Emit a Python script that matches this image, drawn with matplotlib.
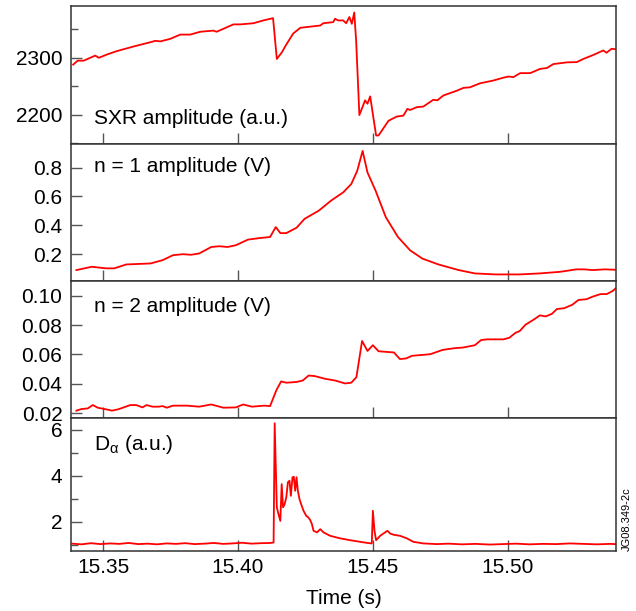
import matplotlib
matplotlib.use('Agg')
import matplotlib.pyplot as plt
from matplotlib.ticker import MultipleLocator, FormatStrFormatter

plt.rcParams['font.family'] = ['Liberation Sans', 'DejaVu Sans']
plt.rcParams['font.size'] = 15

# SXR amplitude (a.u.)
sxr_t = [15.3389, 15.3406, 15.3428, 15.3471, 15.3484, 15.3515, 15.3552, 15.3613,
         15.3675, 15.3694, 15.3712, 15.3749, 15.3786, 15.3823, 15.3860, 15.3909,
         15.3921, 15.3959, 15.3983, 15.4009, 15.4057, 15.4094, 15.4130, 15.4144,
         15.4163, 15.4181, 15.4205, 15.4231, 15.4268, 15.4305, 15.4316, 15.4353,
         15.4360, 15.4371, 15.4390, 15.4401, 15.4413, 15.4422, 15.4431, 15.4438,
         15.4450, 15.4471, 15.4480, 15.4490, 15.4512, 15.4521, 15.4558, 15.4589,
         15.4613, 15.4628, 15.4638, 15.4663, 15.4687, 15.4724, 15.4739, 15.4761,
         15.4811, 15.4836, 15.4860, 15.4897, 15.4947, 15.4984, 15.5003, 15.5021,
         15.5046, 15.5083, 15.5120, 15.5145, 15.5169, 15.5219, 15.5256, 15.5280,
         15.5317, 15.5354, 15.5366, 15.5385, 15.5401]
sxr_v = [2288, 2295, 2295, 2304, 2300, 2306, 2312, 2320,
         2327.5, 2330, 2329, 2333.5, 2341, 2341, 2346, 2348,
         2346, 2354, 2359, 2359, 2361, 2366, 2370, 2298,
         2310, 2325, 2343, 2353, 2355, 2357, 2361, 2363,
         2369, 2366, 2366, 2361, 2372, 2360, 2380, 2330,
         2199, 2225, 2219, 2232, 2163, 2163, 2189, 2196.5,
         2198, 2210, 2208, 2213, 2214, 2226, 2225, 2233.5,
         2242, 2247, 2248, 2255, 2260, 2265, 2267, 2266,
         2273, 2273, 2280.5, 2282, 2289, 2292, 2292.5, 2298,
         2305, 2313, 2309, 2316, 2315]

# n = 1 amplitude (V)
n1_t = [15.3401, 15.3458, 15.3511, 15.3541, 15.3586, 15.3676, 15.3721, 15.3759,
        15.3796, 15.3826, 15.3856, 15.3901, 15.3931, 15.3961, 15.3992, 15.4037,
        15.4082, 15.4119, 15.4140, 15.4157, 15.4179, 15.4217, 15.4247, 15.4300,
        15.4345, 15.4390, 15.4420, 15.4442, 15.4462, 15.4480, 15.4510, 15.4548,
        15.4593, 15.4638, 15.4683, 15.4743, 15.4818, 15.4878, 15.4953, 15.5044,
        15.5119, 15.5194, 15.5254, 15.5284, 15.5314, 15.5359, 15.5404]
n1_v = [0.090, 0.113, 0.102, 0.102, 0.129, 0.136, 0.159, 0.193,
        0.200, 0.196, 0.205, 0.250, 0.255, 0.250, 0.262, 0.301,
        0.312, 0.319, 0.388, 0.346, 0.346, 0.383, 0.445, 0.502,
        0.571, 0.628, 0.686, 0.777, 0.915, 0.766, 0.640, 0.456,
        0.319, 0.227, 0.170, 0.129, 0.090, 0.067, 0.060, 0.060,
        0.067, 0.078, 0.095, 0.095, 0.090, 0.095, 0.092]

# n = 2 amplitude (V)
n2_zx = [187, 200, 215, 228, 240, 260, 275, 290, 320, 335, 350, 360, 375, 390,
         400, 410, 425, 460, 490, 520, 550, 580, 598, 620, 650, 665, 680, 692,
         705, 730, 745, 760, 775, 800, 825, 850, 865, 878, 892, 905, 918, 932,
         950, 970, 985, 1000, 1015, 1060, 1090, 1120, 1140, 1170, 1185, 1200,
         1240, 1255, 1270, 1280, 1295, 1315, 1330, 1345, 1360, 1372, 1390, 1410,
         1425, 1445, 1460, 1480, 1495, 1510, 1520]
n2_t = [round(15.35 + (zx - 253) / 6653, 4) for zx in n2_zx]
n2_v = [0.0218, 0.0229, 0.0233, 0.0256, 0.0238, 0.0227, 0.0218, 0.0227, 0.0256,
        0.0256, 0.0240, 0.0256, 0.0245, 0.0245, 0.0249, 0.0238, 0.0252, 0.0252,
        0.0245, 0.0260, 0.0238, 0.0240, 0.0260, 0.0245, 0.0252, 0.0249, 0.0356,
        0.0417, 0.0408, 0.0413, 0.0423, 0.0457, 0.0453, 0.0435, 0.0423, 0.0403,
        0.0408, 0.0446, 0.0692, 0.0624, 0.0663, 0.0622, 0.0618, 0.0614, 0.0569,
        0.0573, 0.0591, 0.0602, 0.0631, 0.0643, 0.0647, 0.0663, 0.0698, 0.0703,
        0.0703, 0.0714, 0.0748, 0.0759, 0.0803, 0.0837, 0.0866, 0.0859, 0.0877,
        0.0909, 0.0915, 0.0938, 0.0971, 0.0976, 0.0993, 0.1011, 0.1011, 0.1032,
        0.1056]

# D-alpha (a.u.)
da_t = [15.3385, 15.3420, 15.3455, 15.3490, 15.3525, 15.3560, 15.3595, 15.3630,
        15.3665, 15.3700, 15.3735, 15.3770, 15.3805, 15.3840, 15.3875, 15.3910,
        15.3945, 15.3980, 15.4015, 15.4050, 15.4085, 15.4120, 15.4132, 15.4136,
        15.4144, 15.4150, 15.4157, 15.4162, 15.4167, 15.4173, 15.4179, 15.4185,
        15.4191, 15.4196, 15.4202, 15.4207, 15.4212, 15.4217, 15.4222, 15.4228,
        15.4234, 15.4243, 15.4253, 15.4261, 15.4268, 15.4274, 15.4280, 15.4293,
        15.4305, 15.4317, 15.4342, 15.4379, 15.4416, 15.4453, 15.4480, 15.4496,
        15.4500, 15.4506, 15.4512, 15.4527, 15.4539, 15.4554, 15.4564, 15.4576,
        15.4601, 15.4626, 15.4650, 15.4687, 15.4737, 15.4780, 15.4830, 15.4880,
        15.4934, 15.4980, 15.5030, 15.5080, 15.5130, 15.5180, 15.5230, 15.5280,
        15.5330, 15.5380, 15.5400]
da_v = [1.05, 1.02, 1.07, 1.03, 1.06, 1.04, 1.08, 1.03,
        1.05, 1.02, 1.06, 1.04, 1.07, 1.03, 1.05, 1.08,
        1.04, 1.06, 1.09, 1.05, 1.07, 1.08, 1.10, 6.29,
        2.63, 2.34, 2.04, 3.64, 2.63, 2.77, 3.06, 3.72,
        3.79, 3.13, 3.94, 3.96, 3.35, 3.94, 3.35, 2.99,
        2.77, 2.48, 2.26, 2.19, 2.07, 1.90, 1.61, 1.54,
        1.68, 1.54, 1.39, 1.28, 1.20, 1.13, 1.08, 1.06,
        2.48, 1.61, 1.20, 1.39, 1.49, 1.61, 1.49, 1.44,
        1.39, 1.28, 1.13, 1.06, 1.03, 1.05, 1.02, 1.04,
        1.01, 1.03, 1.05, 1.02, 1.04, 1.03, 1.06, 1.04,
        1.02, 1.04, 1.03]

fig = plt.figure(figsize=(6.36, 6.11), dpi=100)
gs = fig.add_gridspec(4, 1, height_ratios=[138.3, 137, 137, 133], hspace=0,
                      left=0.1112, right=0.9693, top=0.9907, bottom=0.0982)
ax = [fig.add_subplot(gs[i]) for i in range(4)]
for a in ax[1:]:
    a.sharex(ax[0])

red = '#ff0000'
ax[0].plot(sxr_t, sxr_v, color=red, lw=1.3)
ax[1].plot(n1_t, n1_v, color=red, lw=1.3)
ax[2].plot(n2_t, n2_v, color=red, lw=1.3)
ax[3].plot(da_t, da_v, color=red, lw=1.3)

ax[0].set_ylim(2148, 2392)
ax[0].yaxis.set_major_locator(MultipleLocator(100))
ax[0].yaxis.set_minor_locator(MultipleLocator(50))

ax[1].set_ylim(0.0145, 0.963)
ax[1].yaxis.set_major_locator(MultipleLocator(0.2))
ax[1].yaxis.set_major_formatter(FormatStrFormatter('%.1f'))

ax[2].set_ylim(0.0168, 0.110)
ax[2].yaxis.set_major_locator(MultipleLocator(0.02))
ax[2].yaxis.set_major_formatter(FormatStrFormatter('%.2f'))

ax[3].set_ylim(0.73, 6.52)
ax[3].yaxis.set_major_locator(MultipleLocator(2))
ax[3].yaxis.set_minor_locator(MultipleLocator(1))

ax[3].set_xlim(15.338, 15.5403)
ax[3].xaxis.set_major_locator(MultipleLocator(0.05))
ax[3].xaxis.set_major_formatter(FormatStrFormatter('%.2f'))
ax[3].set_xlabel('Time (s)', labelpad=9)

for a in ax:
    a.tick_params(which='both', direction='in', color='#555555', width=1.0,
                  top=False, right=False, labelsize=15)
    a.tick_params(which='major', length=8)
    a.tick_params(which='minor', length=5)
    a.tick_params(axis='y', pad=6)
    a.tick_params(axis='x', pad=5)
    for s in a.spines.values():
        s.set_color('#333333')
        s.set_linewidth(1.1)
for a in ax[:3]:
    a.tick_params(axis='x', labelbottom=False)

ax[0].text(0.042, 0.145, 'SXR amplitude (a.u.)', transform=ax[0].transAxes, va='baseline')
ax[1].text(0.042, 0.798, 'n = 1 amplitude (V)', transform=ax[1].transAxes, va='baseline')
ax[2].text(0.042, 0.776, 'n = 2 amplitude (V)', transform=ax[2].transAxes, va='baseline')
ax[3].text(0.042, 0.759, r'D$_{\mathregular{α}}$ (a.u.)', transform=ax[3].transAxes, va='baseline')

fig.text(0.985, 0.0982, 'JG08.349-2c', rotation=90, fontsize=8, ha='center', va='bottom')

plt.savefig('out.png', dpi=100)
